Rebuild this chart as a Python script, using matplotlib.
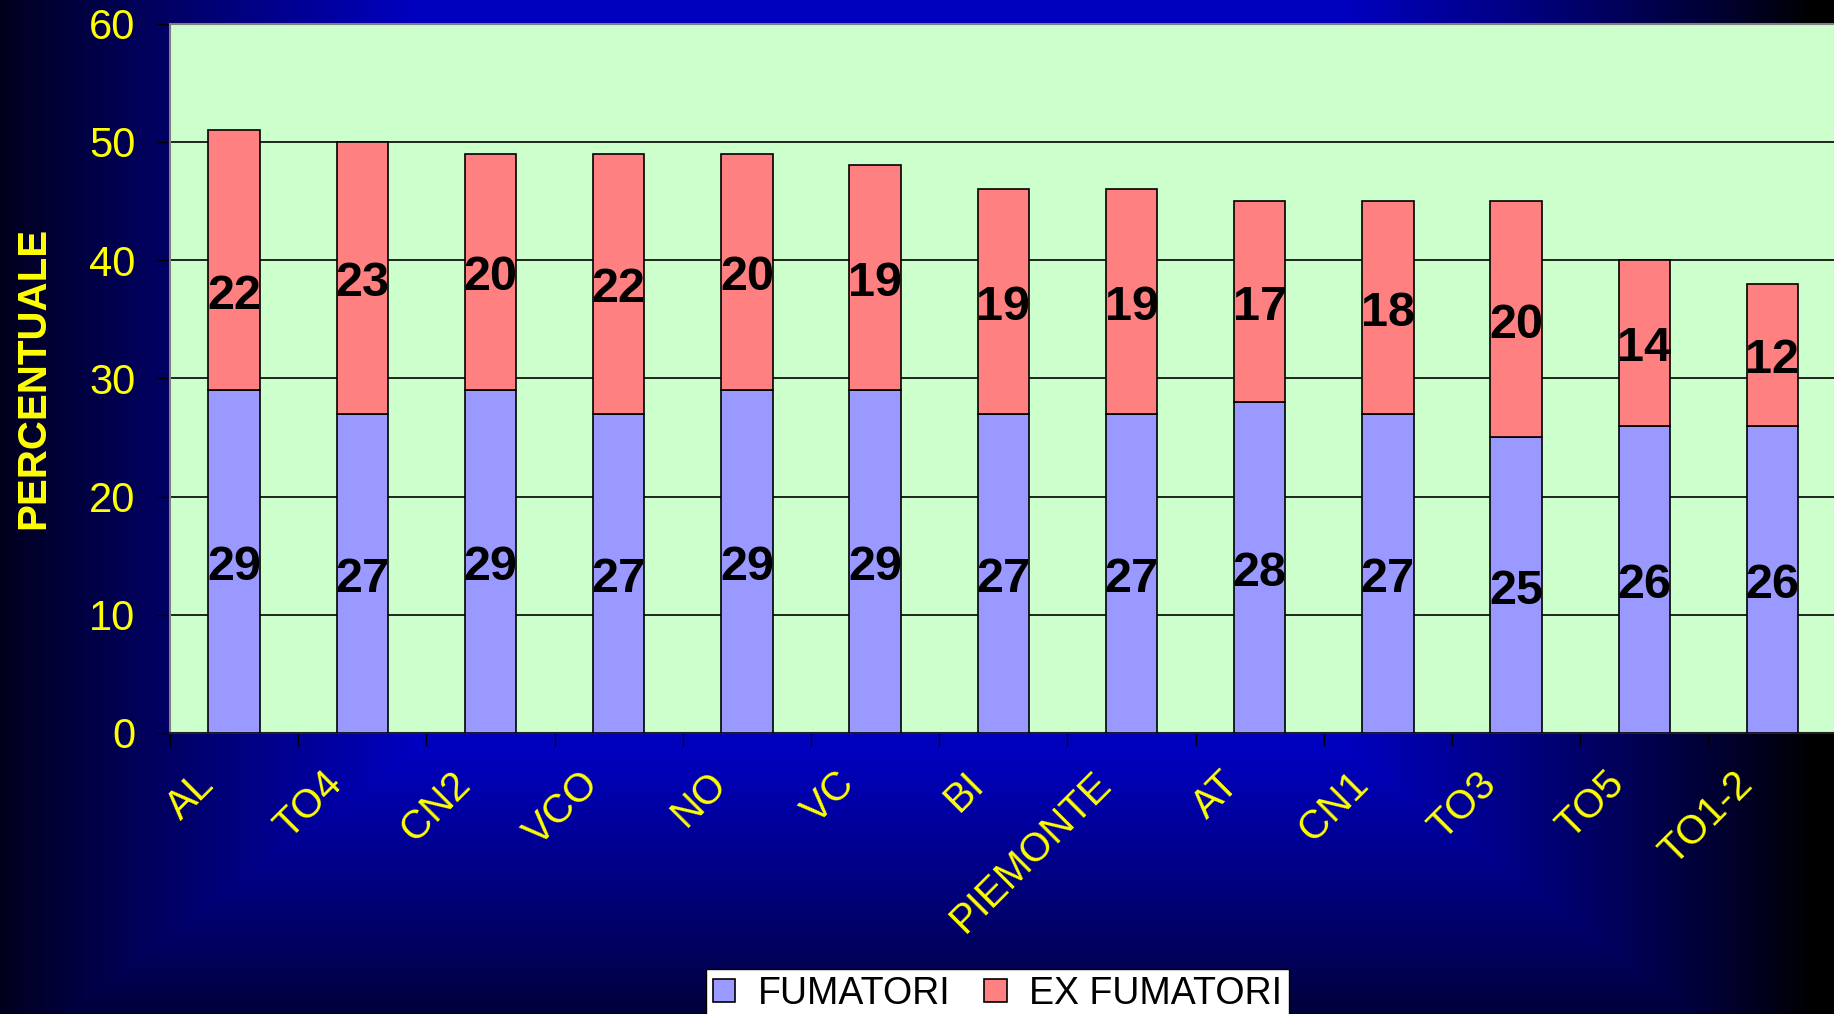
import numpy as np
import matplotlib
matplotlib.use("Agg")
import matplotlib.pyplot as plt
from matplotlib import transforms
from matplotlib.patches import Patch

plt.rcParams['font.family'] = ['Liberation Sans', 'DejaVu Sans']

# ---------------- data ----------------
categories = ["AL", "TO4", "CN2", "VCO", "NO", "VC", "BI", "PIEMONTE",
              "AT", "CN1", "TO3", "TO5", "TO1-2"]
fumatori = [29, 27, 29, 27, 29, 29, 27, 27, 28, 27, 25, 26, 26]
ex_fumatori = [22, 23, 20, 22, 20, 19, 19, 19, 17, 18, 20, 14, 12]
series_names = ["FUMATORI", "EX FUMATORI"]
y_ticks = [0, 10, 20, 30, 40, 50, 60]
y_label = "PERCENTUALE"

# style
C_FUM = "#9999FF"
C_EX = "#FF8080"
C_PLOT = "#CCFFCC"
YELLOW = "#FFFF00"
label_nudge_ex = {0: -2.6}   # manual label nudge (data units) as in the original

W, H, DPI = 1834, 1014, 100
fig = plt.figure(figsize=(W / DPI, H / DPI), dpi=DPI)

# ---------------- background gradient ----------------
bg = fig.add_axes([0, 0, 1, 1], zorder=-10)
xx, yy = np.meshgrid(np.arange(W), np.arange(H))
cx, cy, hx = 880.0, 400.0, 930.0
hy = np.where(yy > cy, 700.0, 800.0)
d = np.maximum(np.abs(xx - cx) / hx, np.abs(yy - cy) / hy)
b = np.clip((1.0 - d) / 0.5, 0, 1) ** 0.85
img = np.zeros((H, W, 3))
img[..., 2] = 0.75 * b
bg.imshow(img, extent=[0, W, H, 0], aspect='auto', interpolation='bilinear')
bg.set_xlim(0, W)
bg.set_ylim(H, 0)
bg.axis('off')

# ---------------- main axes ----------------
left = 170 / W
right_px = 170 + 13 * 128.2
bottom = 1 - 733 / H
top = 1 - 23.5 / H
ax = fig.add_axes([left, bottom, right_px / W - left, top - bottom])
ax.set_facecolor(C_PLOT)

x = np.arange(len(categories))
bw = 0.4
ax.bar(x, fumatori, bw, color=C_FUM, edgecolor='black', linewidth=1.2, zorder=3,
       label=series_names[0])
ax.bar(x, ex_fumatori, bw, bottom=fumatori, color=C_EX, edgecolor='black',
       linewidth=1.2, zorder=3, label=series_names[1])

lab_trans = transforms.offset_copy(ax.transData, fig=fig, x=0, y=-6, units='dots')
for i in range(len(categories)):
    ax.text(x[i], fumatori[i] / 2, str(fumatori[i]), ha='center', va='center',
            fontsize=35, fontweight='bold', color='black', zorder=5,
            transform=lab_trans)
    yy_ = fumatori[i] + ex_fumatori[i] / 2 + label_nudge_ex.get(i, 0)
    ax.text(x[i], yy_, str(ex_fumatori[i]), ha='center', va='center',
            fontsize=35, fontweight='bold', color='black', zorder=5,
            transform=lab_trans)

ax.set_xlim(-0.5, len(categories) - 0.5)
ax.set_ylim(y_ticks[0], y_ticks[-1])
ax.set_yticks(y_ticks)
ax.yaxis.grid(True, color='black', linewidth=1.2, zorder=1)
ax.set_axisbelow(True)
ax.tick_params(axis='y', labelsize=30, labelcolor=YELLOW, color='black',
               length=10, width=1, pad=15)

# x ticks at category boundaries
ax.set_xticks([])
ax.set_xticks(np.arange(-0.5, len(categories), 1.0), minor=True)
ax.tick_params(axis='x', which='minor', length=9, width=1, color='black',
               labelbottom=False)
ax.tick_params(axis='x', which='major', length=0, labelbottom=False)

# rotated category labels
trans = transforms.offset_copy(ax.get_xaxis_transform(), fig=fig,
                               x=-26, y=-45, units='dots')
for i, c in enumerate(categories):
    ax.text(x[i], 0, c, transform=trans, rotation=45, rotation_mode='anchor',
            ha='right', va='center', fontsize=29, color=YELLOW, clip_on=False)

for s in ['left', 'top', 'right']:
    ax.spines[s].set_color('#808080')
    ax.spines[s].set_linewidth(1.5)
ax.spines['bottom'].set_color('#202020')
ax.spines['bottom'].set_linewidth(1.5)

fig.text(33 / W, 1 - 378 / H, y_label, rotation=90, ha='center', va='center',
         fontsize=29, fontweight='bold', color=YELLOW)

# ---------------- legend ----------------
handles = [Patch(facecolor=C_FUM, edgecolor='black', linewidth=1.2),
           Patch(facecolor=C_EX, edgecolor='black', linewidth=1.2)]
leg = fig.legend(handles, series_names, loc='upper left',
                 bbox_to_anchor=(706 / W, 1 - 969 / H), ncol=2, fontsize=27,
                 frameon=True, fancybox=False, borderaxespad=0,
                 handlelength=0.6, handleheight=0.6, handletextpad=0.6,
                 columnspacing=0.9, borderpad=0.18)
leg.get_frame().set_facecolor('white')
leg.get_frame().set_edgecolor('black')
leg.get_frame().set_linewidth(1.0)
leg.get_frame().set_alpha(1)

fig.savefig("out.png", dpi=DPI)
